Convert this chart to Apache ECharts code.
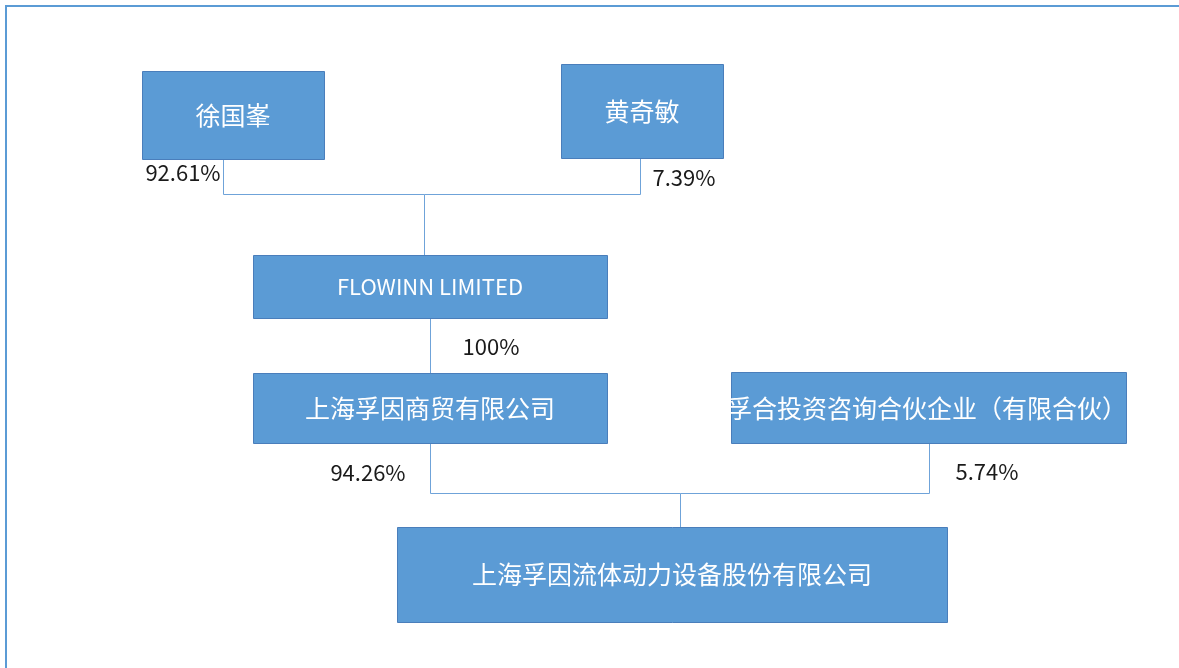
<!DOCTYPE html>
<html>
<head>
<meta charset="utf-8">
<script src="https://cdn.jsdelivr.net/npm/echarts@6/dist/echarts.min.js"></script>
<style>
html,body{margin:0;padding:0;background:#fff;}
#chart{width:1179px;height:668px;}
</style>
</head>
<body>
<div id="chart"></div>
<script>
// ---- Data: entities and ownership stakes ----
var entities = ['徐国峯', '黄奇敏', 'FLOWINN LIMITED', '上海孚因商贸有限公司', '孚合投资咨询合伙企业（有限合伙）', '上海孚因流体动力设备股份有限公司'];
var stakeHolders = ['徐国峯', '黄奇敏', 'FLOWINN LIMITED', '上海孚因商贸有限公司', '孚合投资咨询合伙企业（有限合伙）'];
var stakeTargets = ['FLOWINN LIMITED', 'FLOWINN LIMITED', '上海孚因商贸有限公司', '上海孚因流体动力设备股份有限公司', '上海孚因流体动力设备股份有限公司'];
var stakePercents = [92.61, 7.39, 100, 94.26, 5.74];

// ---- Layout (diagram units on hidden axes 0..1179 x 0..668) ----
var boxLayout = {
  '徐国峯': [142, 71, 182, 88],
  '黄奇敏': [561, 64, 162, 94],
  'FLOWINN LIMITED': [253, 255, 354, 63],
  '上海孚因商贸有限公司': [253, 373, 354, 70],
  '孚合投资咨询合伙企业（有限合伙）': [731, 372, 395, 71],
  '上海孚因流体动力设备股份有限公司': [397, 527, 550, 95]
};
// text anchor: [x, y, align]
var boxTextLayout = {
  '孚合投资咨询合伙企业（有限合伙）': [727, 408, 'left']
};
// connector routes: for each target, the bus y and the drop x; x where each holder's line leaves
var connectorLayout = {
  'FLOWINN LIMITED': { busY: 194, dropX: 424, from: { '徐国峯': 223, '黄奇敏': 640 } },
  '上海孚因商贸有限公司': { busY: null, dropX: 430, from: { 'FLOWINN LIMITED': 430 } },
  '上海孚因流体动力设备股份有限公司': { busY: 493, dropX: 680, from: { '上海孚因商贸有限公司': 430, '孚合投资咨询合伙企业（有限合伙）': 929 } }
};
var pctLabelLayout = [[183, 173], [684, 178], [491, 347], [368, 473], [987, 472]];

var FONT = '"Noto Sans CJK SC", "Noto Sans", sans-serif';
var BLUE = '#5B9BD5';

// Build connector polylines from the stakes
var connectorData = [];
stakeHolders.forEach(function (h, i) {
  var t = stakeTargets[i];
  var c = connectorLayout[t];
  var hb = boxLayout[h], tb = boxLayout[t];
  var x = c.from[h];
  var y0 = hb[1] + hb[3];
  if (c.busY === null) {
    connectorData.push([[x, y0], [x, tb[1]]]);
  } else {
    connectorData.push([[x, y0], [x, c.busY], [c.dropX, c.busY]]);
  }
});
Object.keys(connectorLayout).forEach(function (t) {
  var c = connectorLayout[t];
  if (c.busY !== null) {
    connectorData.push([[c.dropX, c.busY], [c.dropX, boxLayout[t][1]]]);
  }
});

var chart = echarts.init(document.getElementById('chart'), null, { renderer: 'canvas' });

var option = {
  backgroundColor: '#fff',
  animation: false,
  grid: { left: 0, right: 0, top: 0, bottom: 0 },
  xAxis: { type: 'value', min: 0, max: 1179, show: false },
  yAxis: { type: 'value', min: 0, max: 668, inverse: true, show: false },
  graphic: [{
    type: 'rect',
    shape: { x: 6, y: 6, width: 1300, height: 800 },
    style: { fill: null, stroke: BLUE, lineWidth: 2 },
    silent: true, z: 100
  }],
  series: [
    {
      type: 'custom',
      name: 'connectors',
      coordinateSystem: 'cartesian2d',
      data: connectorData.map(function (d, i) { return [i]; }),
      renderItem: function (params, api) {
        var pts = connectorData[params.dataIndex].map(function (p) {
          var c = api.coord(p);
          return [Math.round(c[0]) + 0.5, Math.round(c[1]) + 0.5];
        });
        return {
          type: 'polyline',
          shape: { points: pts },
          style: { stroke: '#6FA3D9', lineWidth: 1, fill: null }
        };
      },
      z: 1
    },
    {
      type: 'custom',
      name: 'entities',
      coordinateSystem: 'cartesian2d',
      data: entities.map(function (n, i) { return [i]; }),
      renderItem: function (params, api) {
        var name = entities[params.dataIndex];
        var b = boxLayout[name];
        var p0 = api.coord([b[0], b[1]]);
        var p1 = api.coord([b[0] + b[2], b[1] + b[3]]);
        var tl = boxTextLayout[name];
        var tx = tl ? api.coord([tl[0], tl[1]]) : [(p0[0] + p1[0]) / 2, (p0[1] + p1[1]) / 2];
        var isLatin = /^[\x00-\x7F]+$/.test(name);
        var rect = {
          type: 'rect',
          shape: { x: Math.round(p0[0]) + 0.5, y: Math.round(p0[1]) + 0.5, width: Math.round(p1[0] - p0[0]), height: Math.round(p1[1] - p0[1]) },
          style: { fill: BLUE, stroke: '#4A7EBB', lineWidth: 1 }
        };
        var text = {
          type: 'text',
          style: {
            x: tx[0], y: tx[1], text: name,
            fill: '#fff', font: (isLatin ? '22px ' : '25px ') + FONT,
            align: tl ? tl[2] : 'center', verticalAlign: 'middle'
          }
        };
        if (tl) {
          return {
            type: 'group',
            children: [rect, {
              type: 'group',
              clipPath: { type: 'rect', shape: { x: p0[0], y: p0[1], width: p1[0] - p0[0], height: p1[1] - p0[1] } },
              children: [text]
            }]
          };
        }
        return { type: 'group', children: [rect, text] };
      },
      z: 2
    },
    {
      type: 'custom',
      name: 'stakes',
      coordinateSystem: 'cartesian2d',
      data: stakePercents.map(function (v, i) { return [i]; }),
      renderItem: function (params, api) {
        var i = params.dataIndex;
        var c = api.coord(pctLabelLayout[i]);
        return {
          type: 'text',
          style: {
            x: c[0], y: c[1], text: stakePercents[i] + '%',
            fill: '#1a1a1a', font: '22px ' + FONT,
            align: 'center', verticalAlign: 'middle'
          }
        };
      },
      z: 3
    }
  ]
};
chart.setOption(option);
</script>
</body>
</html>
